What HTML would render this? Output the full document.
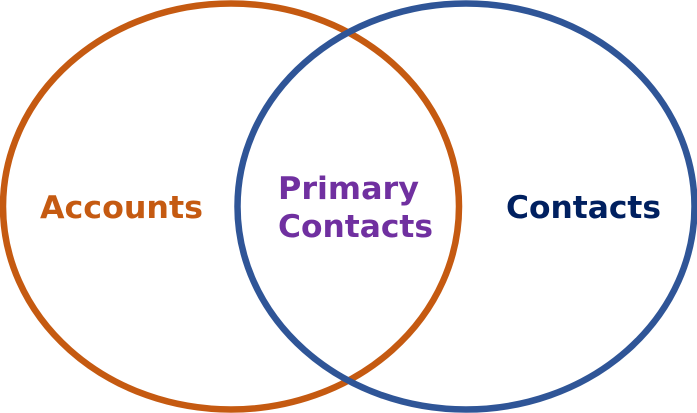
<!DOCTYPE html>
<html><head><style>html,body{margin:0;padding:0;background:#fff;width:697px;height:413px;overflow:hidden}</style></head>
<body>
<svg width="697" height="413" xmlns="http://www.w3.org/2000/svg" style="display:block">
<ellipse cx="231" cy="206.5" rx="228" ry="203" fill="none" stroke="#C55A11" stroke-width="6.5"/>
<ellipse cx="466" cy="206.5" rx="228.5" ry="203" fill="none" stroke="#2F5597" stroke-width="6.5"/>
<g font-family="'DejaVu Sans','Liberation Sans',sans-serif" font-weight="bold" font-size="31">
<text x="40" y="218" fill="#C55A11" textLength="163" lengthAdjust="spacingAndGlyphs">Accounts</text>
<text x="278" y="199" fill="#7030A0" textLength="141" lengthAdjust="spacingAndGlyphs">Primary</text>
<text x="278" y="237" fill="#7030A0" textLength="155" lengthAdjust="spacingAndGlyphs">Contacts</text>
<text x="506" y="218" fill="#002060" textLength="155" lengthAdjust="spacingAndGlyphs">Contacts</text>
</g>
</svg>
</body></html>
